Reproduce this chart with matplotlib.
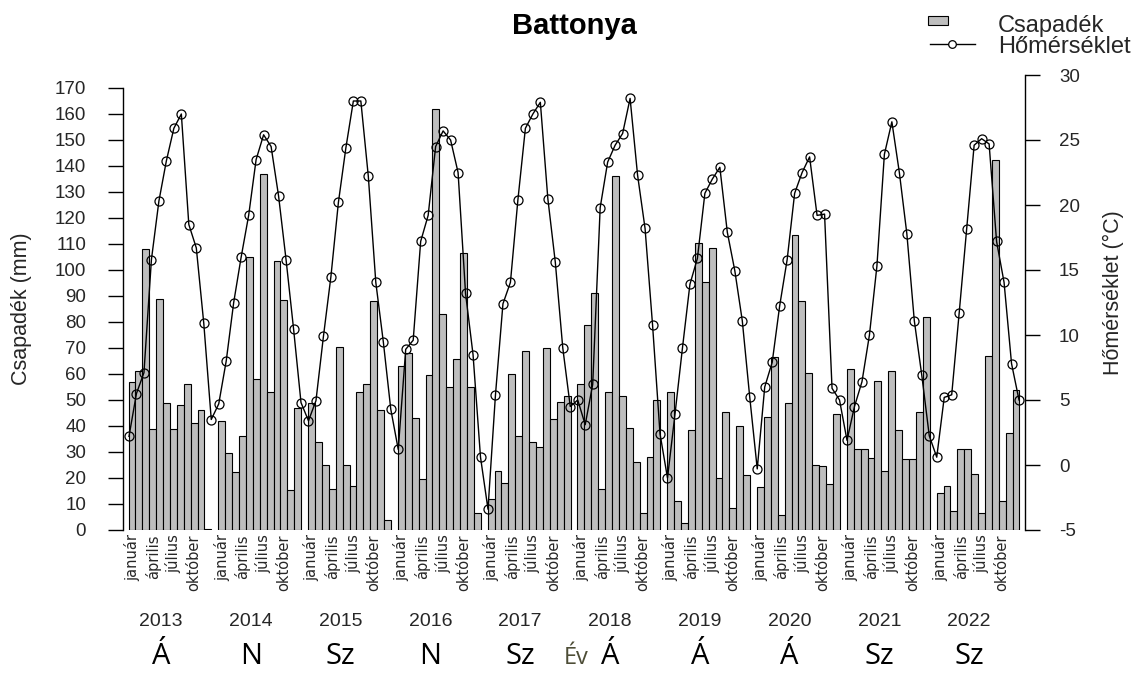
import matplotlib
matplotlib.use("Agg")
import matplotlib.pyplot as plt
from matplotlib.patches import Rectangle
from matplotlib.lines import Line2D

plt.rcParams["font.family"] = ["Liberation Sans", "DejaVu Sans"]
plt.rcParams["axes.unicode_minus"] = False

YEARS = [2013, 2014, 2015, 2016, 2017, 2018, 2019, 2020, 2021, 2022]
MONTH_LABELS = ["január", "", "", "április", "", "", "július", "", "", "október", "", ""]
SEASON_LABELS = ["Á", "N", "Sz", "N", "Sz", "Á", "Á", "Á", "Sz", "Sz"]

# monthly precipitation (mm)
PRECIP_2013 = [57, 61, 108, 39, 89, 49, 39, 48, 56, 41, 46, 0.5]
PRECIP_2014 = [42, 29.5, 22.4, 36, 105, 58, 137, 53, 103.5, 88.5, 15.4, 47]
PRECIP_2015 = [49, 34, 25, 15.6, 70.5, 25, 17, 53, 56, 88, 46, 4]
PRECIP_2016 = [63, 68, 43, 19.5, 59.6, 162, 83, 55, 65.6, 106.4, 55, 6.7]
PRECIP_2017 = [11.8, 22.8, 18.2, 60, 36, 69, 34, 32, 70, 42.6, 49.4, 51.5]
PRECIP_2018 = [56, 79, 91, 15.6, 53, 136.3, 51.5, 39.4, 26, 6.7, 28.2, 50]
PRECIP_2019 = [53, 11.2, 2.8, 38.5, 110.3, 95.5, 108.3, 20, 45.5, 8.3, 40, 21.2]
PRECIP_2020 = [16.7, 43.6, 66.4, 5.8, 49, 113.5, 88, 60.3, 25, 24.6, 17.6, 44.6]
PRECIP_2021 = [61.8, 31, 31.3, 27.8, 57.4, 22.8, 61.2, 38.5, 27.2, 27.2, 45.3, 82]
PRECIP_2022 = [14.1, 16.9, 7.4, 31, 31.3, 21.4, 6.7, 66.9, 142.3, 11.2, 37.4, 53.8]

# monthly mean temperature (°C)
TEMP_2013 = [2.2, 5.5, 7.1, 15.8, 20.3, 23.4, 25.9, 27.0, 18.5, 16.7, 10.9, 3.5]
TEMP_2014 = [4.7, 8.0, 12.5, 16.0, 19.2, 23.5, 25.4, 24.5, 20.7, 15.8, 10.5, 4.8]
TEMP_2015 = [3.4, 4.95, 9.9, 14.5, 20.2, 24.4, 28.0, 28.0, 22.2, 14.05, 9.5, 4.3]
TEMP_2016 = [1.2, 8.9, 9.6, 17.2, 19.2, 24.5, 25.7, 25.0, 22.5, 13.2, 8.5, 0.6]
TEMP_2017 = [-3.4, 5.4, 12.4, 14.05, 20.4, 25.9, 27.0, 27.9, 20.5, 15.6, 9.0, 4.5]
TEMP_2018 = [5.0, 3.1, 6.2, 19.8, 23.3, 24.6, 25.5, 28.2, 22.3, 18.2, 10.8, 2.4]
TEMP_2019 = [-1.0, 3.9, 9.0, 13.9, 15.9, 20.9, 22.0, 22.9, 17.9, 14.95, 11.1, 5.2]
TEMP_2020 = [-0.3, 6.0, 7.9, 12.25, 15.8, 20.9, 22.5, 23.7, 19.2, 19.3, 5.9, 5.0]
TEMP_2021 = [1.9, 4.5, 6.4, 10.0, 15.3, 23.9, 26.4, 22.5, 17.8, 11.1, 6.9, 2.25]
TEMP_2022 = [0.6, 5.2, 5.4, 11.7, 18.15, 24.6, 25.1, 24.7, 17.2, 14.05, 7.8, 5.0]

precip = (PRECIP_2013 + PRECIP_2014 + PRECIP_2015 + PRECIP_2016 + PRECIP_2017
          + PRECIP_2018 + PRECIP_2019 + PRECIP_2020 + PRECIP_2021 + PRECIP_2022)
temps = (TEMP_2013 + TEMP_2014 + TEMP_2015 + TEMP_2016 + TEMP_2017
         + TEMP_2018 + TEMP_2019 + TEMP_2020 + TEMP_2021 + TEMP_2022)

W, H = 1139, 673
TEXT = "#262626"


def fx(px):
    return px / W


def fy(py):
    return 1 - py / H


fig = plt.figure(figsize=(W / 100, H / 100), dpi=100)

# bars: 12 months + one empty slot per year
slots = [13 * y + m for y in range(len(YEARS)) for m in range(12)]

ax = fig.add_axes([fx(123), fy(530), 902 / W, 442 / H])
ax.bar(slots, precip, width=1.0, color="#bebebe", edgecolor="black", linewidth=0.8)
ax.set_xlim(-1.3, 129.3)
ax.set_ylim(0, 170)
for s in ["top", "right", "bottom"]:
    ax.spines[s].set_visible(False)
ax.spines["left"].set_linewidth(1.0)
ax.set_yticks(range(0, 171, 10))
ax.tick_params(axis="y", length=10.5, width=1.0, pad=16, labelsize=13.5, labelcolor=TEXT)

month_ticks = [13 * y + m for y in range(len(YEARS)) for m in range(12) if MONTH_LABELS[m]]
month_names = [MONTH_LABELS[m] for y in range(len(YEARS)) for m in range(12) if MONTH_LABELS[m]]
ax.set_xticks(month_ticks)
ax.set_xticklabels(month_names, rotation=90, fontsize=10.5, family="DejaVu Sans", color=TEXT)
ax.tick_params(axis="x", length=0, pad=3)

for k, (yr, season) in enumerate(zip(YEARS, SEASON_LABELS)):
    ax.text(13 * k + 4.2, -0.208, str(yr), transform=ax.get_xaxis_transform(),
            ha="center", va="center", fontsize=14, color=TEXT)
    ax.text(13 * k + 4.2, -0.287, season, transform=ax.get_xaxis_transform(),
            ha="center", va="center", fontsize=21, family="Open Sans", color="black")

# temperature line on its own, taller axes (right scale reaches 30 above the bar box)
ax2 = fig.add_axes([fx(123), fy(530), 902 / W, 455 / H])
ax2.patch.set_visible(False)
ax2.plot(range(len(temps)), temps, color="black", linewidth=1.0, marker="o",
         markersize=6.5, markerfacecolor="none", markeredgecolor="black", markeredgewidth=0.9)
ax2.set_xlim(-0.8, 119.8)
ax2.set_ylim(-5, 30)
for s in ["top", "left", "bottom"]:
    ax2.spines[s].set_visible(False)
ax2.spines["right"].set_linewidth(1.0)
ax2.xaxis.set_visible(False)
ax2.yaxis.tick_right()
ax2.set_yticks(range(-5, 31, 5))
ax2.tick_params(axis="y", length=10.5, width=1.0, pad=14, labelsize=13.5, labelcolor=TEXT)

fig.text(fx(576), fy(658), "Év", ha="center", va="center", fontsize=17,
         family="Open Sans", color="#4d4d36")

fig.text(fx(22), fy(309), "Csapadék (mm)", rotation=90, ha="center", va="center",
         fontsize=15.5, color=TEXT)
fig.text(fx(1113), fy(293), "Hőmérséklet (°C)", rotation=90, ha="center", va="center",
         fontsize=15.5, color=TEXT)

fig.text(fx(574), fy(34), "Battonya", ha="center", va="baseline", fontsize=21,
         fontweight="bold", color="black")

# legend
fig.patches.append(Rectangle((fx(928), fy(25)), 20 / W, 9 / H, transform=fig.transFigure,
                             facecolor="#bebebe", edgecolor="black", linewidth=0.8))
fig.add_artist(Line2D([fx(930), fx(975)], [fy(44), fy(44)], transform=fig.transFigure,
                      color="black", linewidth=1.0))
fig.add_artist(Line2D([fx(952)], [fy(44)], transform=fig.transFigure, marker="o",
                      markersize=5.5, markerfacecolor="white", markeredgecolor="black",
                      markeredgewidth=0.9))
fig.text(fx(998), fy(32), "Csapadék", ha="left", va="baseline", fontsize=17, color=TEXT)
fig.text(fx(998), fy(53), "Hőmérséklet", ha="left", va="baseline", fontsize=17, color=TEXT)

fig.savefig("out.png", dpi=100)
